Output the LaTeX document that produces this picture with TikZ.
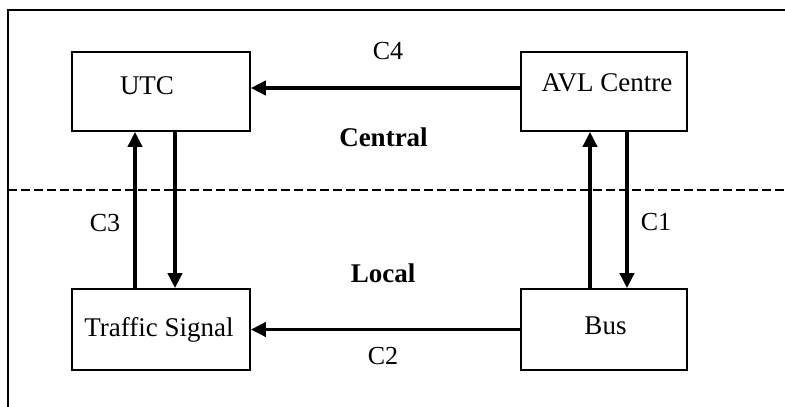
\documentclass[tikz,border=0pt]{standalone}
\usepackage{fontspec}
\setmainfont{Liberation Serif}
\usetikzlibrary{arrows.meta}
\tikzset{
  box/.style={draw, line width=1.6pt, inner sep=0pt, minimum width=178pt, minimum height=80pt},
  boxtext/.style={font=\fontsize{27}{32}\selectfont, inner sep=0pt},
  lab/.style={font=\fontsize{26}{31}\selectfont, inner sep=0pt},
  zone/.style={font=\fontsize{27}{32}\selectfont\bfseries, inner sep=0pt},
  conn/.style={line width=3.6pt, -{Triangle[length=15pt,width=14pt]}},
  frame/.style={line width=1.6pt},
  divider/.style={line width=2.8pt, dash pattern=on 9pt off 4pt}
}
\begin{document}
\begin{tikzpicture}[x=1pt,y=-1pt]
\useasboundingbox (0,0) rectangle (785,407);
% frame (right and bottom sides lie outside the picture)
\draw[frame] (8,420) -- (8,10) -- (800,10);
% divider between central and local
\draw[divider] (8,190) -- (785,190);
% boxes
\node[box, minimum width=178pt, minimum height=79pt,
      label={[boxtext, shift={(-14,-5.5)}]center:UTC}] (utc) at (161,91.5) {};
\node[box, minimum width=166pt, minimum height=79pt,
      label={[boxtext, shift={(3,-9)}]center:AVL Centre}] (avl) at (604,91.5) {};
\node[box, minimum width=178pt, minimum height=81pt,
      label={[boxtext, shift={(-2,0)}]center:Traffic Signal}] (ts) at (161,329.5) {};
\node[box, minimum width=166pt, minimum height=81pt,
      label={[boxtext, shift={(1.5,-4)}]center:Bus}] (bus) at (604,329.5) {};
% connectors
\draw[conn] ([yshift=3.5pt]avl.west) -- ([yshift=3.5pt]utc.east);
\draw[conn] (bus.west) -- (ts.east);
\draw[conn] ([xshift=-26pt]ts.north) -- ([xshift=-26pt]utc.south);
\draw[conn] ([xshift=14pt]utc.south) -- ([xshift=14pt]ts.north);
\draw[conn] ([xshift=-14pt]bus.north) -- ([xshift=-14pt]avl.south);
\draw[conn] ([xshift=23pt]avl.south) -- ([xshift=23pt]bus.north);
% labels
\node[lab] (c4) at (388,51) {C4};
\node[lab] (c2) at (383,356) {C2};
\node[lab] (c3) at (105,223) {C3};
\node[lab] (c1) at (656,222) {C1};
\node[zone] (central) at (383.5,137) {Central};
\node[zone] (local) at (383,273) {Local};
\end{tikzpicture}
\end{document}
